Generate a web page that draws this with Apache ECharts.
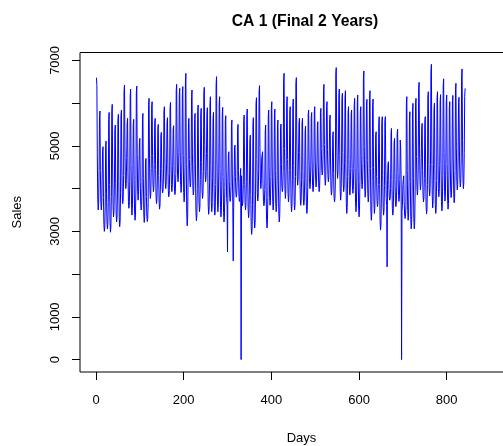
<!DOCTYPE html>
<html>
<head>
<meta charset="utf-8">
<script src="https://cdn.jsdelivr.net/npm/echarts@6/dist/echarts.min.js"></script>
<style>html,body{margin:0;padding:0;background:#fff}#c{width:503px;height:446px}</style>
</head>
<body>
<div id="c"></div>
<script>
const titleText = 'CA 1 (Final 2 Years)';
const xName = 'Days';
const yName = 'Sales';
const xTicks = [0, 200, 400, 600, 800];
const yTicks = [0, 1000, 2000, 3000, 4000, 5000, 6000, 7000];
const yLabels = [0, 1000, 3000, 5000, 7000];
// daily sales, one row per week (Sat..Fri), day 1 = first point
const sales = [
6595,6410,4740,3750,3500,3650,4430,
5680,5816,4420,3680,3500,3610,4190,
4860,4980,3790,3160,3000,3100,3590,
4990,5113,3880,3220,3060,3160,3680,
5620,5784,4100,3210,2980,3120,3820,
5810,5971,4390,3550,3340,3470,4130,
5350,5487,4130,3400,3220,3340,3900,
5580,5737,4160,3320,3110,3240,3900,
5710,5839,4530,3830,3650,3760,4310,
6280,6424,4970,4200,4000,4120,4730,
5520,5644,4380,3700,3540,3640,4170,
6150,6330,4560,3620,3380,3530,4270,
5480,5620,4200,3450,3260,3380,3970,
6240,6400,4800,3940,3730,3860,4530,
5070,5175,4170,3630,3500,3580,4000,
5610,5761,4230,3410,3210,3340,3970,
4620,4707,3820,3350,3230,3300,3670,
5970,6112,4710,3960,3770,3890,4470,
5910,6034,4770,4100,3930,4030,4560,
5520,5644,4450,3810,3650,3750,4250,
5380,5503,4310,3680,3520,3620,4110,
5230,5316,4470,4010,3900,3970,4320,
5800,5917,4770,4160,4000,4100,4580,
5550,5659,4550,3960,3810,3900,4360,
5890,6018,4760,4090,3930,4030,4550,
5380,5472,4510,3990,3860,3940,4350,
6300,6440,5070,4340,4160,4270,4840,
6200,6347,4880,4100,3910,4030,4640,
6220,6386,4770,3910,3690,3830,4500,
6480,6698,4560,3420,3130,3310,4200,
5550,5644,4680,4170,4040,4120,4520,
6160,6308,4830,4040,3850,3970,4590,
5610,5761,4250,3450,3250,3370,4000,
5810,5956,4460,3660,3460,3580,4210,
5750,5878,4610,3940,3770,3880,4400,
6240,6370,5040,4340,4160,4270,4820,
5740,5893,4400,3600,3400,3520,4150,
5990,6151,4540,3670,3460,3590,4270,
5640,5784,4340,3570,3380,3500,4100,
6430,6620,4720,3710,3460,3620,4410,
5980,6151,4470,3560,3340,3480,4180,
5740,5901,4290,3440,3220,3360,4030,
5580,5706,4440,3770,3600,2520,4230,
4790,4863,4170,3790,3700,3760,4050,
5480,5605,4340,3670,2310,3560,4130,
4950,5019,4290,3900,3800,3860,4170,
5390,5503,4420,3840,3700,3790,4240,
4473,0,4300,3750,3600,3680,4100,
5590,5722,4390,3680,3500,3610,4170,
5710,5862,4340,3520,3320,3440,4080,
5110,5253,3860,3110,2930,3040,3630,
5500,5659,4110,3290,3080,3210,3850,
5980,6128,4680,3900,3710,3830,4440,
6260,6409,4960,4200,4000,4120,4730,
4790,4863,4110,3700,3600,3660,3980,
5340,5487,4040,3280,3080,3200,3800,
5700,5839,4500,3790,3610,3720,4280,
5880,6034,4510,3700,3500,3620,4260,
5720,5862,4420,3650,3460,3580,4180,
5460,5605,4180,3410,3220,3340,3940,
5420,5511,4560,4050,3930,4000,4400,
6520,6698,4940,4000,3770,3920,4650,
6000,6151,4680,3890,3690,3810,4430,
5770,5917,4440,3650,3460,3580,4200,
5940,6096,4540,3700,3500,3630,4280,
6450,6597,5090,4280,4080,4210,4840,
5520,5644,4420,3780,3610,3720,4220,
5540,5644,4400,3760,3610,3700,4200,
5340,5464,4240,3580,3420,3520,4030,
5730,5839,4740,4150,4000,4100,4550,
5670,5780,4670,4070,3930,4020,4480,
5800,5917,4790,4190,4040,4140,4600,
5470,5565,4580,4060,3930,4010,4420,
5780,5878,4940,4440,4320,4390,4790,
6300,6440,5030,4270,4080,4200,4790,
5920,6034,4910,4310,4160,4250,4720,
5610,5722,4600,4000,3850,3940,4410,
5230,5331,4350,3820,3690,3770,4180,
6680,6831,5280,4450,4240,4370,5020,
6170,6331,4770,3940,3730,3860,4510,
6090,6230,4850,4110,3930,4040,4620,
6120,6292,4570,3650,3420,3560,4280,
5790,5917,4680,4010,3850,3950,4470,
5720,5839,4670,4040,3890,3980,4470,
5950,6112,4520,3670,3460,3590,4250,
6020,6190,4480,3570,3340,3480,4190,
5800,5917,4770,4160,4000,4100,4580,
6580,6753,4980,4040,3800,3950,4690,
5950,6089,4650,3880,3690,3810,4410,
6110,6292,4470,3500,3260,3410,4170,
5940,6096,4490,3630,3420,3550,4220,
5230,5331,4280,3720,3580,3660,4100,
5520,5683,4090,3240,3030,3160,3830,
5550,5683,4300,3560,3380,3500,4070,
5560,5683,4430,3770,3600,2170,4220,
4570,4629,4090,3800,3730,3780,4000,
5290,5409,4190,3540,3380,3480,3990,
5080,5175,4220,3700,3580,3650,4060,
5290,5394,4380,3840,3700,3780,4210,
5136,4950,4200,0,3460,3600,4100,
4220,4300,3700,3380,3300,3350,3600,
5980,6151,4420,3490,3260,3410,4130,
5640,5800,4160,3280,3060,3200,3880,
5820,5995,4230,3290,3060,3210,3940,
5980,6112,4750,4030,3850,3960,4530,
6340,6487,4970,4170,3970,4090,4720,
5420,5526,4430,3840,3690,3780,4240,
5550,5683,4320,3590,3410,3520,4090,
6120,6268,4810,4020,3830,3950,4560,
6710,6909,4890,3820,3550,3720,4560,
5850,6000,4450,3630,3420,3550,4190,
6120,6268,4790,4010,3810,3930,4550,
6040,6200,4570,3700,3480,3620,4300,
6400,6570,4850,3940,3710,3850,4570,
6030,6190,4590,3730,3520,3650,4320,
5900,6034,4690,3970,3790,3900,4460,
6030,6180,4670,3870,3670,3800,4420,
6310,6464,4970,4170,3970,4090,4720,
6010,6136,4880,4210,4040,4150,4670,
6630,6799,5120,4230,4000,4140,4840,
6160,6347
];

const FONT = "'Liberation Sans', Arial, Helvetica, sans-serif";
const data = sales.map((v, i) => [i + 1, v]);

const chart = echarts.init(document.getElementById('c'), null, {renderer: 'canvas', width: 503, height: 446});
chart.setOption({
  animation: false,
  backgroundColor: '#ffffff',
  title: {
    text: titleText,
    left: 300,
    top: 9,
    textAlign: 'center',
    textStyle: {fontFamily: FONT, fontWeight: 'bold', fontSize: 15.7, color: '#000'}
  },
  grid: {
    left: 80, top: 52.5, width: 443, height: 319.5,
    show: true, borderColor: '#000', borderWidth: 1, backgroundColor: 'transparent',
    containLabel: false, outerBoundsMode: 'none'
  },
  xAxis: {
    type: 'value', min: -36.5, max: 974,
    name: xName, nameLocation: 'middle', nameGap: 60,
    nameTextStyle: {fontFamily: FONT, fontSize: 13, color: '#000'},
    axisLine: {show: false, onZero: false},
    splitLine: {show: false},
    axisTick: {show: true, inside: false, length: 8, lineStyle: {color: '#000', width: 1}, customValues: xTicks},
    axisLabel: {customValues: xTicks, margin: 22, fontFamily: FONT, fontSize: 13, color: '#000',
      formatter: v => String(v)}
  },
  yAxis: {
    type: 'value', min: -290, max: 7185,
    name: yName, nameLocation: 'middle', nameGap: 56, nameRotate: 90,
    nameTextStyle: {fontFamily: FONT, fontSize: 13, color: '#000'},
    axisLine: {show: false, onZero: false},
    splitLine: {show: false},
    axisTick: {show: true, inside: false, length: 8, lineStyle: {color: '#000', width: 1}, customValues: yTicks},
    axisLabel: {customValues: yLabels, rotate: 90, margin: 18, fontFamily: FONT, fontSize: 13, color: '#000',
      formatter: v => String(v)}
  },
  series: [{
    type: 'line',
    data: data,
    showSymbol: false,
    symbol: 'none',
    silent: true,
    lineStyle: {color: '#0000ff', width: 1},
    itemStyle: {color: '#0000ff'}
  }]
});
</script>
</body>
</html>
